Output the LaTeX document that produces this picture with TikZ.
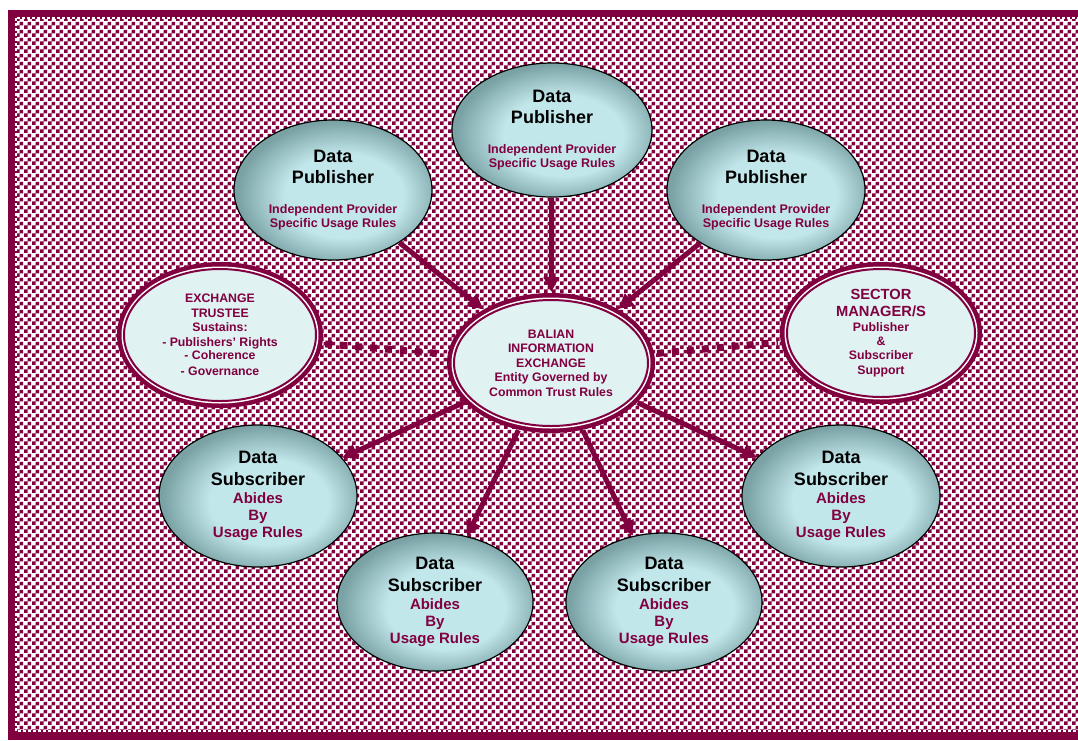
\documentclass[tikz,border=0pt]{standalone}
\usepackage{fontspec}
\setmainfont{Liberation Sans}
\usetikzlibrary{shapes.geometric,arrows.meta,patterns}

\definecolor{wine}{RGB}{128,0,64}
\definecolor{mist}{RGB}{224,242,242}
\definecolor{orbhi}{RGB}{194,231,235}
\definecolor{orblo}{RGB}{122,162,165}

\pgfdeclareradialshading{orb}{\pgfpoint{4bp}{-3bp}}{color(0bp)=(orbhi); color(15bp)=(orbhi); color(26bp)=(orblo); color(50bp)=(orblo)}
\pgfdeclarepatternformonly{cells}{\pgfqpoint{0pt}{0pt}}{\pgfqpoint{8pt}{8pt}}{\pgfqpoint{8pt}{8pt}}{%
  \pgfpathrectangle{\pgfqpoint{0pt}{0pt}}{\pgfqpoint{4pt}{4pt}}%
  \pgfpathrectangle{\pgfqpoint{4pt}{4pt}}{\pgfqpoint{4pt}{4pt}}%
  \pgfusepath{fill}}

\newcommand\pubnote[1]{{\color{wine}\fontsize{12.5}{14}\selectfont #1}}
\newcommand\subnote[1]{{\color{wine}\fontsize{15}{17}\selectfont #1}}
\newcommand\keyhead[1]{{\fontsize{14.7}{17}\selectfont #1}}

\tikzset{
  publisher/.style={ellipse, draw=black, line width=1.2pt, shading=orb, inner sep=0pt,
    align=center, font=\bfseries\fontsize{18}{21}\selectfont},
  subscriber/.style={publisher, font=\bfseries\fontsize{18}{22}\selectfont},
  keynode/.style={ellipse, fill=mist, draw=wine, line width=2pt,
    preaction={draw=wine, line width=14pt}, preaction={draw=white, line width=5pt},
    inner sep=0pt, align=center, text=wine, font=\bfseries\fontsize{12.3}{14.5}\selectfont},
  flow/.style={draw=wine, line width=5pt, -{Triangle[length=15pt,width=15pt]}},
  link/.style={draw=wine, line width=7pt, dash pattern=on 7pt off 8pt, shorten <=9pt, shorten >=9pt},
}

\begin{document}
\begin{tikzpicture}[x=1pt, y=-1pt]
  \useasboundingbox (0,0) rectangle (1078,740);
  \fill[wine] (8,10) rectangle (1078,740);
  \fill[white] (17,19) rectangle (1078,730);
  \fill[pattern=cells, pattern color=wine] (17,19) rectangle (1078,730);
  \draw[white, line width=1.2pt, dash pattern=on 3pt off 2pt] (16,18) rectangle (1090,731);

  \node[publisher, minimum width=200, minimum height=134] (pubtop) at (552,130)
    {Data\\Publisher\\[9pt]\pubnote{Independent Provider}\\[-7pt]\pubnote{Specific Usage Rules}};
  \node[publisher, minimum width=198, minimum height=140] (publeft) at (333,190)
    {Data\\Publisher\\[9pt]\pubnote{Independent Provider}\\[-7pt]\pubnote{Specific Usage Rules}};
  \node[publisher, minimum width=198, minimum height=140] (pubright) at (766,190)
    {Data\\Publisher\\[9pt]\pubnote{Independent Provider}\\[-7pt]\pubnote{Specific Usage Rules}};

  \node[keynode, minimum width=192, minimum height=132] (trustee) at (220,335)
    {EXCHANGE\\TRUSTEE\\Sustains:\\- Publishers’ Rights\\[-1pt]- Coherence\\[1pt]- Governance};
  \node[keynode, minimum width=194, minimum height=126] (hub) at (551,363)
    {BALIAN\\INFORMATION\\EXCHANGE\\Entity Governed by\\Common Trust Rules};
  \node[keynode, minimum width=188, minimum height=128] (sector) at (881,333)
    {\keyhead{SECTOR}\\[2.5pt]\keyhead{MANAGER/S}\\[0.5pt]Publisher\\[-0.5pt]\&\\[-0.5pt]Subscriber\\Support};

  \node[subscriber, minimum width=198, minimum height=142] (subleft) at (258,496)
    {Data\\Subscriber\\[-4pt]\subnote{Abides}\\[-5pt]\subnote{By}\\[-5pt]\subnote{Usage Rules}};
  \node[subscriber, minimum width=196, minimum height=138] (sublow) at (435,602)
    {Data\\Subscriber\\[-4pt]\subnote{Abides}\\[-5pt]\subnote{By}\\[-5pt]\subnote{Usage Rules}};
  \node[subscriber, minimum width=196, minimum height=138] (subhigh) at (664,602)
    {Data\\Subscriber\\[-4pt]\subnote{Abides}\\[-5pt]\subnote{By}\\[-5pt]\subnote{Usage Rules}};
  \node[subscriber, minimum width=198, minimum height=142] (subright) at (841,496)
    {Data\\Subscriber\\[-4pt]\subnote{Abides}\\[-5pt]\subnote{By}\\[-5pt]\subnote{Usage Rules}};

  \draw[flow, shorten >=7pt] (publeft) -- (hub);
  \draw[flow, shorten >=7pt] (pubtop) -- (hub);
  \draw[flow, shorten >=7pt] (pubright) -- (hub);
  \draw[flow, shorten <=7pt] (hub) -- (subleft);
  \draw[flow, shorten <=7pt] (hub) -- (sublow);
  \draw[flow, shorten <=7pt] (hub) -- (subhigh);
  \draw[flow, shorten <=7pt] (hub) -- (subright);
  \draw[link] (trustee) -- (hub);
  \draw[link] (hub) -- (sector);
\end{tikzpicture}
\end{document}
